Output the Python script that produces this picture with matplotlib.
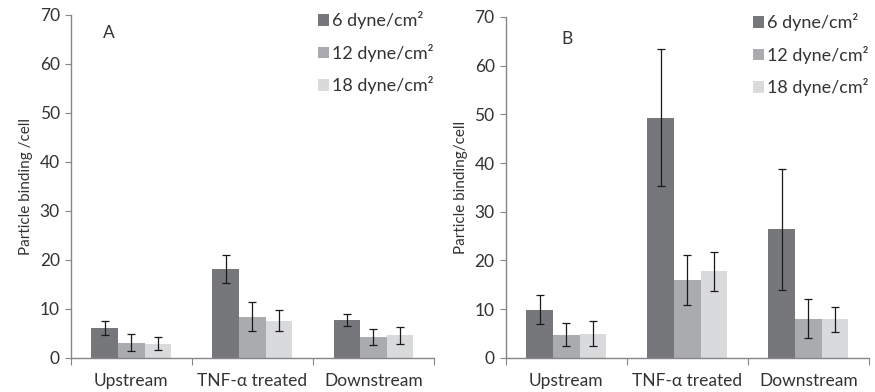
import numpy as np
import matplotlib
matplotlib.use("Agg")
import matplotlib.pyplot as plt

plt.rcParams['font.family'] = ['Lato', 'DejaVu Sans']

categories = ["Upstream", "TNF-\u03b1 treated", "Downstream"]
series = ["6 dyne/cm\u00b2", "12 dyne/cm\u00b2", "18 dyne/cm\u00b2"]
colors = ["#76777b", "#aaabae", "#d9dadc"]

# panel A
a_vals = [[6.1, 18.1, 7.8],
          [3.1, 8.4, 4.2],
          [2.9, 7.6, 4.6]]
a_err = [[1.4, 2.9, 1.2],
         [1.7, 3.0, 1.6],
         [1.3, 2.1, 1.8]]

# panel B
b_vals = [[9.9, 49.3, 26.4],
          [4.8, 16.0, 8.0],
          [5.0, 17.8, 7.9]]
b_err = [[3.0, 14.1, 12.4],
         [2.4, 5.2, 4.0],
         [2.6, 4.0, 2.6]]

axis_col = "#868686"
text_col = "#333333"


def draw_panel(ax, vals, errs, letter, letter_pos, ylabel):
    x = np.arange(len(categories)) + 0.5
    w = 0.22
    for i, (v, e) in enumerate(zip(vals, errs)):
        ax.bar(x + (i - 1) * w, v, w, color=colors[i], label=series[i],
               yerr=e, capsize=2.6,
               error_kw=dict(ecolor="#1a1a1a", elinewidth=0.9, capthick=0.9))
    ax.set_xlim(0, 3)
    ax.set_ylim(0, 70)
    ax.set_yticks(range(0, 71, 10))
    ax.set_xticks([0, 1, 2, 3])
    ax.set_xticklabels([])
    ax.set_xticks(x, minor=True)
    ax.set_xticklabels(categories, minor=True)
    ax.tick_params(axis="x", which="minor", length=0, pad=11, labelsize=12.5, labelcolor=text_col)
    ax.tick_params(axis="x", which="major", length=5, color=axis_col, direction="out")
    ax.tick_params(axis="y", length=4, color=axis_col, labelsize=12.5, labelcolor=text_col, pad=4)
    for s in ["top", "right"]:
        ax.spines[s].set_visible(False)
    for s in ["left", "bottom"]:
        ax.spines[s].set_color(axis_col)
        ax.spines[s].set_linewidth(1.0)
    ax.set_ylabel(ylabel, fontsize=11, color=text_col, labelpad=5)
    ax.text(letter_pos[0], letter_pos[1], letter, transform=ax.transAxes, fontsize=12.5,
            color=text_col, ha="center", va="center")
    ax.legend(loc="upper right", bbox_to_anchor=(1.0, 1.01), frameon=False,
              fontsize=13, handlelength=0.6, handleheight=0.6, handletextpad=0.2,
              labelspacing=0.8, borderpad=0, borderaxespad=0, labelcolor=text_col)


fig = plt.figure(figsize=(8.75, 3.92), dpi=100)
ax1 = fig.add_axes([0.081, 0.087, 0.415, 0.875])
ax2 = fig.add_axes([0.578, 0.087, 0.415, 0.870])

draw_panel(ax1, a_vals, a_err, "A", (0.105, 0.948), "Particle binding /cell")
draw_panel(ax2, b_vals, b_err, "B", (0.17, 0.935), "Particle binding/cell")

fig.savefig("out.png", dpi=100)
